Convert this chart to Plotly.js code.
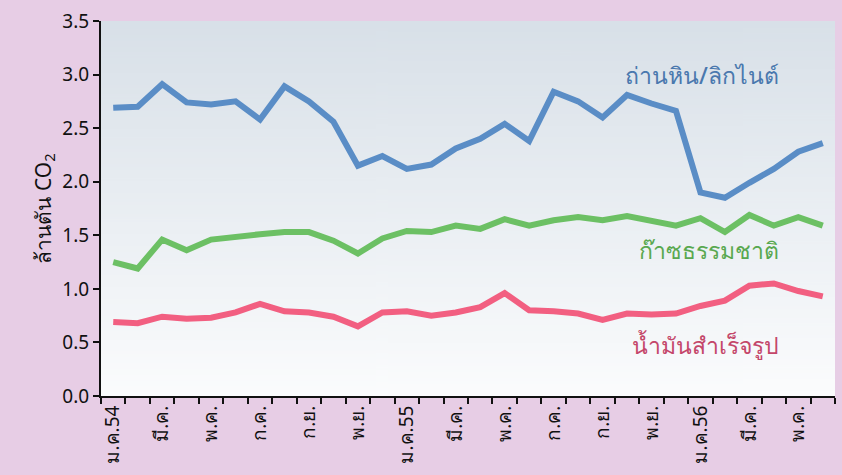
<!DOCTYPE html>
<html>
<head>
<meta charset="utf-8">
<script src="https://cdn.plot.ly/plotly-3.0.1.min.js"></script>
<style>html,body{margin:0;padding:0;background:#e7cde5;}#chart{width:842px;height:475px;}</style>
</head>
<body>
<div id="chart"></div>
<script>
const months = ['ม.ค.54','ก.พ.','มี.ค.','เม.ย.','พ.ค.','มิ.ย.','ก.ค.','ส.ค.','ก.ย.','ต.ค.','พ.ย.','ธ.ค.',
  'ม.ค.55','ก.พ.','มี.ค.','เม.ย.','พ.ค.','มิ.ย.','ก.ค.','ส.ค.','ก.ย.','ต.ค.','พ.ย.','ธ.ค.',
  'ม.ค.56','ก.พ.','มี.ค.','เม.ย.','พ.ค.','มิ.ย.'];
const coal = [2.69,2.70,2.91,2.74,2.72,2.75,2.58,2.89,2.75,2.56,2.15,2.24,2.12,2.16,2.31,
  2.40,2.54,2.38,2.84,2.75,2.60,2.81,2.73,2.66,1.90,1.85,1.99,2.12,2.28,2.36];
const gas = [1.25,1.19,1.46,1.36,1.46,1.49,1.51,1.53,1.53,1.45,1.33,1.47,1.54,1.53,1.59,
  1.56,1.65,1.59,1.64,1.67,1.64,1.68,1.64,1.59,1.66,1.53,1.69,1.59,1.67,1.59];
const oil = [0.69,0.68,0.74,0.72,0.73,0.78,0.86,0.79,0.78,0.74,0.65,0.78,0.79,0.75,0.78,
  0.83,0.96,0.80,0.79,0.77,0.71,0.77,0.76,0.77,0.84,0.89,1.03,1.05,0.98,0.93];
const seriesNames = ['ถ่านหิน/ลิกไนต์','ก๊าซธรรมชาติ','น้ำมันสำเร็จรูป'];

const idx = months.map((m,i)=>i);
const tickIdx = idx.filter(i=>i%2===0);
const tickText = tickIdx.map(i=>months[i]);
const bounds = [];
for (let i=0;i<=months.length;i++) bounds.push(i-0.5);

// gradient background image
const cv = document.createElement('canvas');
cv.width = 4; cv.height = 256;
const ctx = cv.getContext('2d');
const g = ctx.createLinearGradient(0,0,0,256);
g.addColorStop(0,'#d8e0e8');
g.addColorStop(1,'#fbfcfd');
ctx.fillStyle = g; ctx.fillRect(0,0,4,256);
const bgURL = cv.toDataURL();

const FONT = 'Noto Sans, sans-serif';
const traces = [
  {x: idx, y: coal, name: seriesNames[0], mode:'lines', line:{color:'#5a8dc6', width:6}},
  {x: idx, y: gas, name: seriesNames[1], mode:'lines', line:{color:'#6cc064', width:6}},
  {x: idx, y: oil, name: seriesNames[2], mode:'lines', line:{color:'#f25f81', width:6}}
];

const layout = {
  width: 842, height: 475,
  paper_bgcolor: '#e7cde5',
  plot_bgcolor: 'rgba(0,0,0,0)',
  margin: {l:101, r:7, t:21, b:79, pad:0},
  showlegend: false,
  font: {family: FONT, color:'#111111'},
  xaxis: {
    range: [-0.5, months.length-0.5],
    tickmode: 'array', tickvals: tickIdx, ticktext: tickText,
    tickangle: -90, ticks: '', showgrid: false, zeroline: false,
    showline: true, linecolor: '#111111', linewidth: 2,
    tickfont: {size: 19, family: FONT, color:'#111111'},
    minor: {tickmode:'array', tickvals: bounds, ticks:'outside', ticklen:6, tickwidth:2, tickcolor:'#111111', showgrid:false}
  },
  yaxis: {
    range: [0, 3.5], dtick: 0.5, tickformat: '.1f',
    ticks: 'outside', ticklen: 6, tickwidth: 2, tickcolor:'#111111',
    showgrid: false, zeroline: false,
    showline: true, linecolor: '#111111', linewidth: 2,
    tickfont: {size: 19, family: FONT, color:'#111111'},
    title: {text: 'ล้านตัน CO<sub>2</sub>', font: {size: 21, family: FONT, color:'#111111'}, standoff: 5}
  },
  images: [{source: bgURL, xref:'paper', yref:'paper', x:0, y:1, sizex:1, sizey:1,
            sizing:'stretch', layer:'below', xanchor:'left', yanchor:'top'}],
  annotations: [
    {text: seriesNames[0], xref:'paper', yref:'paper', x:0.927, y:0.855, xanchor:'right', yanchor:'middle',
     showarrow:false, font:{size:23, family: FONT, color:'#4a78ae', weight: 500}},
    {text: seriesNames[1], xref:'paper', yref:'paper', x:0.927, y:0.39, xanchor:'right', yanchor:'middle',
     showarrow:false, font:{size:23, family: FONT, color:'#59a84f', weight: 500}},
    {text: seriesNames[2], xref:'paper', yref:'paper', x:0.927, y:0.135, xanchor:'right', yanchor:'middle',
     showarrow:false, font:{size:23, family: FONT, color:'#c4476a', weight: 500}}
  ]
};

Plotly.newPlot('chart', traces, layout, {displayModeBar:false, staticPlot:true});
</script>
</body>
</html>
